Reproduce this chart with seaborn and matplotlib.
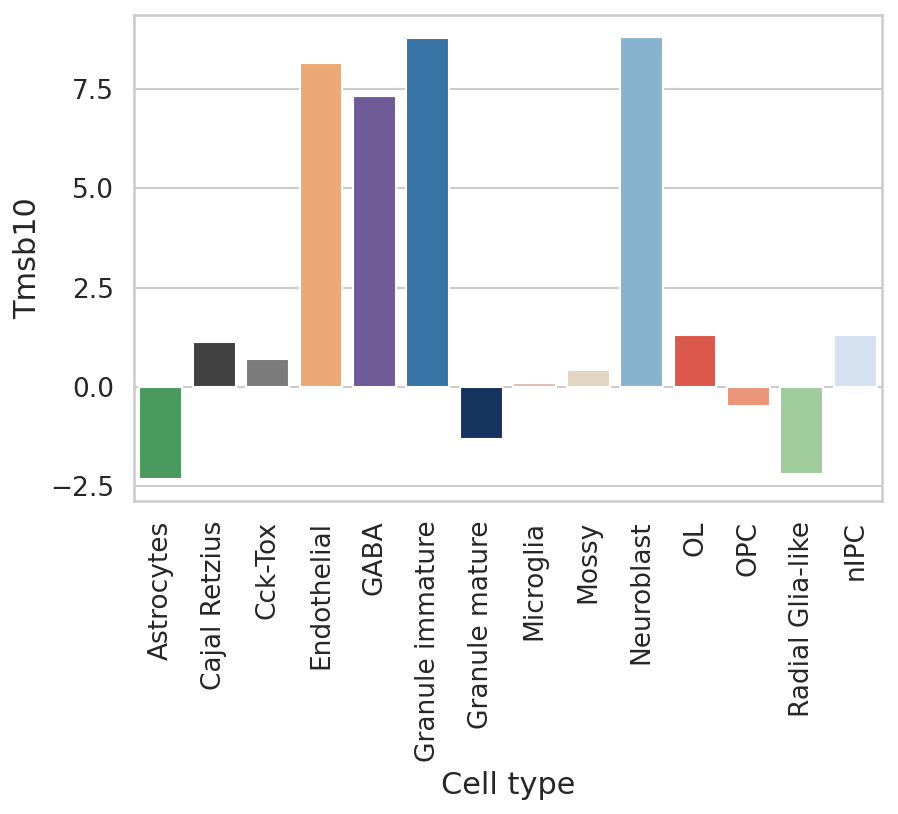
import matplotlib
matplotlib.use("Agg")
import matplotlib.pyplot as plt
from matplotlib.ticker import MultipleLocator
import seaborn as sns
import pandas as pd

sns.set_theme(style="whitegrid")

cell_types = ["Astrocytes", "Cajal Retzius", "Cck-Tox", "Endothelial", "GABA",
              "Granule immature", "Granule mature", "Microglia", "Mossy",
              "Neuroblast", "OL", "OPC", "Radial Glia-like", "nIPC"]
tmsb10 = [-2.31, 1.14, 0.72, 8.15, 7.32, 8.78, -1.30, 0.11, 0.44,
          8.81, 1.32, -0.48, -2.19, 1.32]
bar_colors = ["#4a995e", "#414141", "#7b7b7b", "#eaa976", "#6f5a98",
              "#3874a6", "#15335f", "#dfbcb1", "#e1d6c1", "#88b3cf",
              "#da584c", "#ea947a", "#a0cc9b", "#d5e2f0"]

df = pd.DataFrame({"Cell type": cell_types, "Tmsb10": tmsb10})

fig, ax = plt.subplots(figsize=(898 / 150, 814 / 150), dpi=150)
sns.barplot(data=df, x="Cell type", y="Tmsb10", hue="Cell type",
            palette=bar_colors, saturation=1, legend=False, ax=ax)

ax.yaxis.set_major_locator(MultipleLocator(2.5))
ax.set_xlabel("Cell type", fontsize=14.6)
ax.set_ylabel("Tmsb10", fontsize=14.6)
ax.tick_params(axis="x", labelsize=12.7, rotation=90)
ax.tick_params(axis="y", labelsize=12.7)

fig.subplots_adjust(left=0.1492, right=0.9822, top=0.9816, bottom=0.3845)
fig.savefig("out.png", dpi=150)
